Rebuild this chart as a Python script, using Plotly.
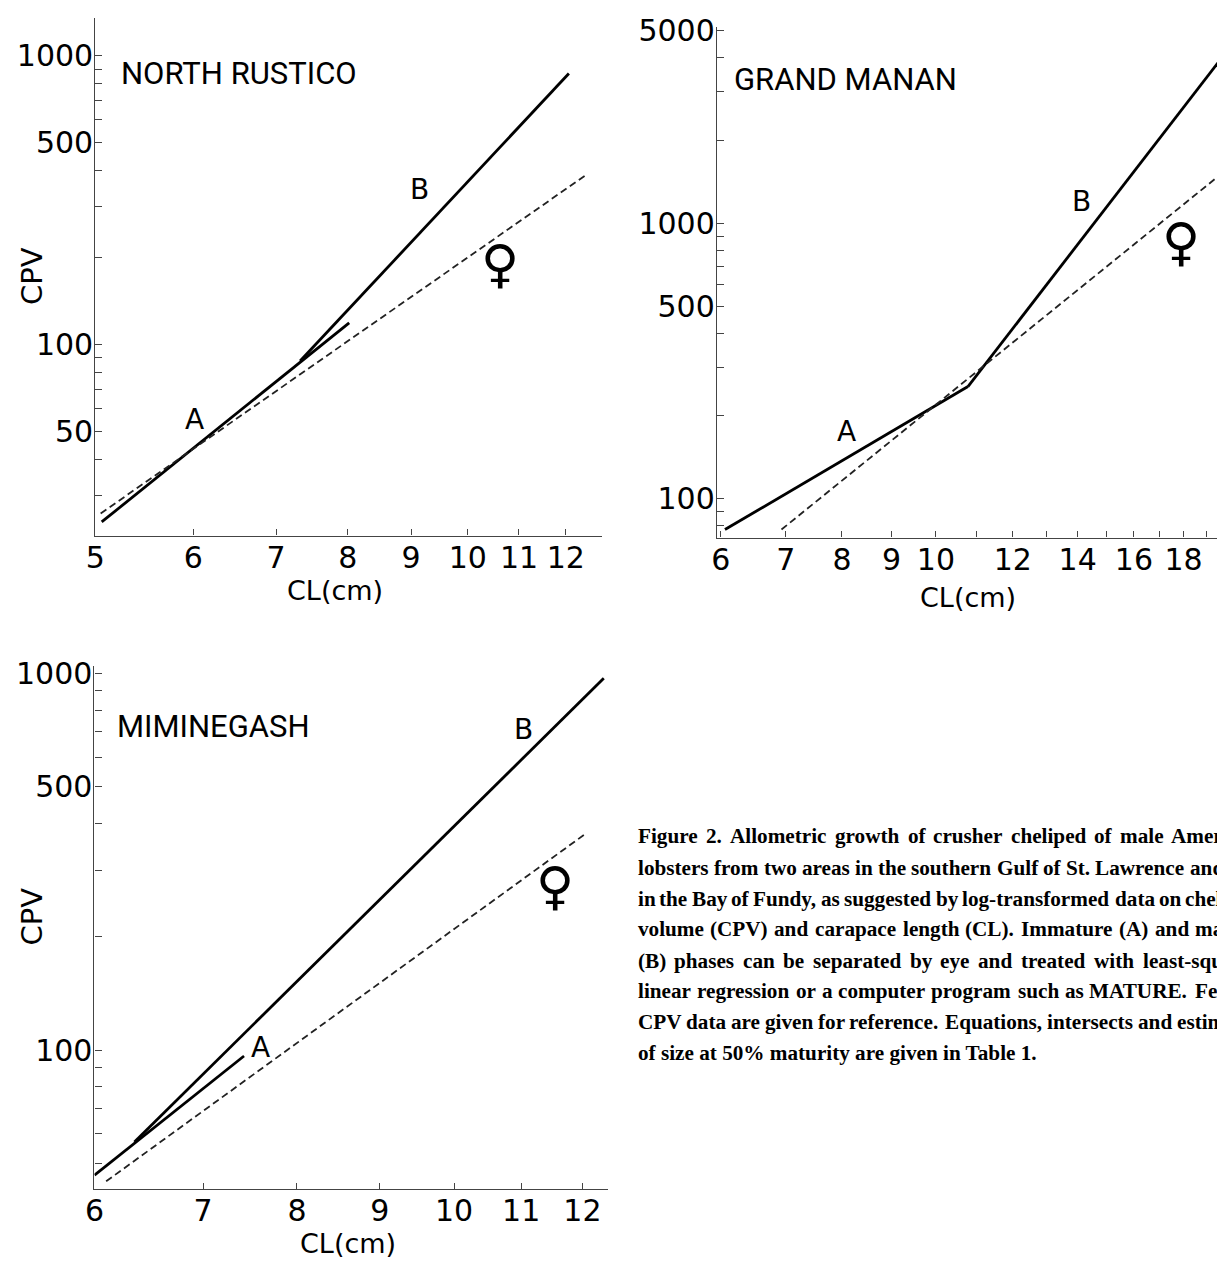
import math
import plotly.graph_objects as go

# The page body keeps the browser's default 8px margin, so the figure is
# drawn 8px smaller and all page positions are shifted by that amount.
OFF = 8
W, H = 1225 - OFF, 1270 - OFF

# ---------------- data (CL in cm, CPV) ----------------
# North Rustico
nr_A_cl = [5.06, 8.02]
nr_A_cpv = [24.3, 119]
nr_B_cl = [7.32, 12.07]
nr_B_cpv = [87.7, 869]
nr_F_cl = [5.05, 12.43]
nr_F_cpv = [26.0, 384]
# Grand Manan
gm_A_cl = [6.06, 10.79]
gm_A_cpv = [77.4, 255.7]
gm_B_cl = [10.79, 19.57]
gm_B_cpv = [255.7, 3861]
gm_F_cl = [6.93, 19.72]
gm_F_cpv = [77.4, 1520]
# Miminegash
mi_A_cl = [6.0, 7.42]
mi_A_cpv = [46.5, 96.4]
mi_B_cl = [6.35, 12.37]
mi_B_cpv = [57, 971]
mi_F_cl = [6.10, 12.06]
mi_F_cpv = [44.8, 376]

# ticks
nr_x_ticks = [5, 6, 7, 8, 9, 10, 11, 12]
nr_x_labels = ["5", "6", "7", "8", "9", "10", "11", "12"]
nr_y_ticks = [30, 40, 50, 60, 70, 80, 90, 100, 200, 300, 400, 500, 600, 700, 800, 900, 1000]
nr_y_labels = ["", "", "50", "", "", "", "", "100", "", "", "", "500", "", "", "", "", "1000"]

gm_x_ticks = [6, 7, 8, 9, 10, 11, 12, 13, 14, 15, 16, 17, 18, 19]
gm_x_labels = ["6", "7", "8", "9", "10", "", "12", "", "14", "", "16", "", "18", ""]
gm_y_ticks = [80, 90, 100, 200, 300, 400, 500, 600, 700, 800, 900, 1000, 2000, 3000, 4000, 5000]
gm_y_labels = ["", "", "100", "", "", "", "500", "", "", "", "", "1000", "", "", "", "5000"]

mi_x_ticks = [6, 7, 8, 9, 10, 11, 12]
mi_x_labels = ["6", "7", "8", "9", "10", "11", "12"]
mi_y_ticks = [50, 60, 70, 80, 90, 100, 200, 300, 400, 500, 600, 700, 800, 900, 1000]
mi_y_labels = ["", "", "", "", "", "100", "", "", "", "500", "", "", "", "", "1000"]

caption_lines = [
    "Figure 2. Allometric growth of crusher cheliped of male American",
    "lobsters from two areas in the southern Gulf of St. Lawrence and one",
    "in the Bay of Fundy, as suggested by log-transformed data on cheliped",
    "volume (CPV) and carapace length (CL). Immature (A) and mature",
    "(B) phases can be separated by eye and treated with least-squares",
    "linear regression or a computer program such as MATURE. Female",
    "CPV data are given for reference. Equations, intersects and estimates",
    "of size at 50% maturity are given in Table 1.",
]

# ---------------- layout geometry (page pixels) ----------------
panels = [
    # (suffix, x_px, y_px, xrange, yrange)
    ("", (94, 605), (13, 536), (5, 12.84), (21.8, 1354)),
    ("2", (720.7, 1225), (22, 538), (5.944, 19.49), (72.4, 5169)),
    ("3", (93.2, 610.7), (668, 1196.4), (5.9999, 12.44), (42.7, 1046)),
]

fig = go.Figure()

series = [
    ("", nr_A_cl, nr_A_cpv, nr_B_cl, nr_B_cpv, nr_F_cl, nr_F_cpv),
    ("2", gm_A_cl, gm_A_cpv, gm_B_cl, gm_B_cpv, gm_F_cl, gm_F_cpv),
    ("3", mi_A_cl, mi_A_cpv, mi_B_cl, mi_B_cpv, mi_F_cl, mi_F_cpv),
]
for suf, axc, ayc, bxc, byc, fxc, fyc in series:
    xa, ya = "x" + suf, "y" + suf
    fig.add_trace(go.Scatter(x=axc, y=ayc, mode="lines", xaxis=xa, yaxis=ya,
                             line=dict(color="black", width=2.8), showlegend=False))
    fig.add_trace(go.Scatter(x=bxc, y=byc, mode="lines", xaxis=xa, yaxis=ya,
                             line=dict(color="black", width=2.8), showlegend=False))
    fig.add_trace(go.Scatter(x=fxc, y=fyc, mode="lines", xaxis=xa, yaxis=ya,
                             line=dict(color="#222", width=1.8, dash="7px,4px"), showlegend=False))

tick_font = dict(family="DejaVu Sans", size=30, color="black")
axis_sets = [
    (nr_x_ticks, nr_x_labels, nr_y_ticks, nr_y_labels),
    (gm_x_ticks, gm_x_labels, gm_y_ticks, gm_y_labels),
    (mi_x_ticks, mi_x_labels, mi_y_ticks, mi_y_labels),
]
lay = {}
for (suf, xpx, ypx, xr, yr), (xt, xl, yt, yl) in zip(panels, axis_sets):
    xk, yk = "xaxis" + suf, "yaxis" + suf
    lay[xk] = dict(
        type="log", range=[math.log10(xr[0]), math.log10(xr[1])],
        domain=[(xpx[0] - OFF) / W, min(1.0, (xpx[1] - OFF) / W)], anchor="y" + suf,
        showgrid=False, zeroline=False, showline=True, linecolor="#444", linewidth=1.2,
        ticks="inside", ticklen=6, tickwidth=1.2, tickcolor="#444",
        tickmode="array", tickvals=xt, ticktext=xl, tickfont=tick_font,
        ticklabelstandoff=-5, fixedrange=True,
    )
    lay[yk] = dict(
        type="log", range=[math.log10(yr[0]), math.log10(yr[1])],
        domain=[1 - (ypx[1] - OFF) / H, 1 - (ypx[0] - OFF) / H], anchor="x" + suf,
        showgrid=False, zeroline=False, showline=True, linecolor="#444", linewidth=1.2,
        ticks="inside", ticklen=7, tickwidth=1.2, tickcolor="#444",
        tickmode="array", tickvals=yt, ticktext=yl, tickfont=tick_font,
        ticklabelstandoff=-5, fixedrange=True,
    )


def ann(px, py, text, size, family="DejaVu Sans", xanchor="center", yanchor="middle", angle=0):
    return dict(x=(px - OFF) / W, y=1 - (py - OFF) / H, xref="paper", yref="paper", text=text,
                showarrow=False, xanchor=xanchor, yanchor=yanchor, textangle=angle,
                font=dict(size=size, family=family, color="black"))


FEM = "DejaVu Sans"
annotations = [
    # North Rustico
    ann(118, 69, "NORTH RUSTICO", 31, "Roboto", xanchor="left"),
    ann(421, 186, "B", 28),
    ann(194, 419, "A", 28),
    ann(502, 262, "\u2640", 52, FEM),
    ann(30, 274, "CPV", 29, angle=-90),
    ann(336, 592, "CL(cm)", 27),
    # Grand Manan
    ann(736, 75, "GRAND MANAN", 31, "Roboto", xanchor="left"),
    ann(1088, 198, "B", 28),
    ann(851, 431, "A", 28),
    ann(1189, 239, "\u2640", 52, FEM),
    ann(974, 599, "CL(cm)", 27),
    # Miminegash
    ann(114, 729, "MIMINEGASH", 31, "Roboto", xanchor="left"),
    ann(526, 732, "B", 28),
    ann(261, 1053, "A", 28),
    ann(558, 890, "\u2640", 52, FEM),
    ann(30, 921, "CPV", 29, angle=-90),
    ann(349, 1251, "CL(cm)", 27),
]

# ---------------- justified caption (Times-Bold metrics, /1000 em) ----------------
TB = {" ": 250, "%": 1000, "(": 333, ")": 333, ",": 250, "-": 333, ".": 250,
      "A": 722, "B": 667, "C": 722, "D": 722, "E": 667, "F": 611, "G": 778, "H": 778,
      "I": 389, "L": 667, "M": 944, "P": 611, "R": 722, "S": 556, "T": 667, "U": 722,
      "V": 722, "a": 500, "b": 556, "c": 444, "d": 556, "e": 444, "f": 333, "g": 500,
      "h": 556, "i": 278, "j": 333, "k": 556, "l": 278, "m": 833, "n": 556, "o": 500,
      "p": 556, "q": 556, "r": 444, "s": 389, "t": 333, "u": 556, "v": 500, "w": 722,
      "x": 500, "y": 500, "z": 444}
CAP_SIZE = 21.2
CAP_L, CAP_R = 639, 1268
cap_y = [840, 871.5, 903, 934, 965.5, 996.5, 1027.5, 1059]


def wwidth(word):
    return sum(TB.get(ch, 500) for ch in word) / 1000 * CAP_SIZE * 1.02


for li, (txt, cy) in enumerate(zip(caption_lines, cap_y)):
    if li == len(caption_lines) - 1:
        annotations.append(ann(CAP_L, cy, "<b>" + txt + "</b>", CAP_SIZE, "Liberation Serif",
                               xanchor="left"))
        continue
    words = txt.split(" ")
    widths = [wwidth(w) for w in words]
    gap = (CAP_R - CAP_L - sum(widths)) / (len(words) - 1)
    xpos = CAP_L
    for w, ww in zip(words, widths):
        annotations.append(ann(xpos, cy, "<b>" + w + "</b>", CAP_SIZE, "Liberation Serif",
                               xanchor="left"))
        xpos += ww + gap

fig.update_layout(
    width=W, height=H,
    margin=dict(l=0, r=0, t=0, b=0, pad=0),
    paper_bgcolor="white", plot_bgcolor="white",
    showlegend=False,
    annotations=annotations,
    **lay,
)

fig.write_html("out.html")
